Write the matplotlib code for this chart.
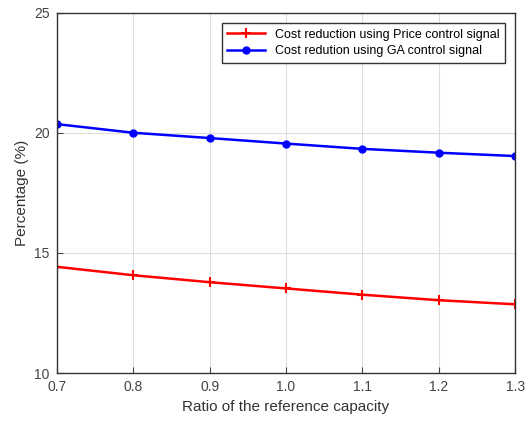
import matplotlib
matplotlib.use("Agg")
import matplotlib.pyplot as plt

x = [0.7, 0.8, 0.9, 1.0, 1.1, 1.2, 1.3]
price = [14.42, 14.07, 13.78, 13.52, 13.26, 13.03, 12.86]
ga = [20.36, 20.00, 19.78, 19.55, 19.33, 19.17, 19.03]
xticks = [0.7, 0.8, 0.9, 1.0, 1.1, 1.2, 1.3]
xticklabels = ["0.7", "0.8", "0.9", "1.0", "1.1", "1.2", "1.3"]
yticks = [10, 15, 20, 25]

plt.rcParams['font.family'] = ['Liberation Sans', 'DejaVu Sans']

fig = plt.figure(figsize=(5.31, 4.21), dpi=100)
ax = fig.add_axes([0.107, 0.114, 0.863, 0.856])
ax.plot(x, price, color='red', lw=1.8, marker='+', ms=7, mew=1.5,
        label='Cost reduction using Price control signal')
ax.plot(x, ga, color='blue', lw=1.8, marker='o', ms=5,
        label='Cost redution using GA control signal')
ax.set_xlim(0.7, 1.3)
ax.set_ylim(10, 25)
ax.set_xticks(xticks)
ax.set_xticklabels(xticklabels)
ax.set_yticks(yticks)
ax.grid(True, color='#dddddd', lw=0.8)
ax.tick_params(direction='in', labelsize=10, colors='#444444', length=4, pad=5)
for s in ax.spines.values():
    s.set_color('#333333')
    s.set_linewidth(1.0)
ax.set_xlabel('Ratio of the reference capacity', fontsize=11, color='#333333')
ax.set_ylabel('Percentage (%)', fontsize=11, color='#333333')
leg = ax.legend(loc='upper right', bbox_to_anchor=(0.978, 0.971), borderaxespad=0,
                fontsize=9, fancybox=False, framealpha=1,
                edgecolor='#333333', borderpad=0.45, labelspacing=0.35, handlelength=3.0)
fig.savefig('out.png', dpi=100)
